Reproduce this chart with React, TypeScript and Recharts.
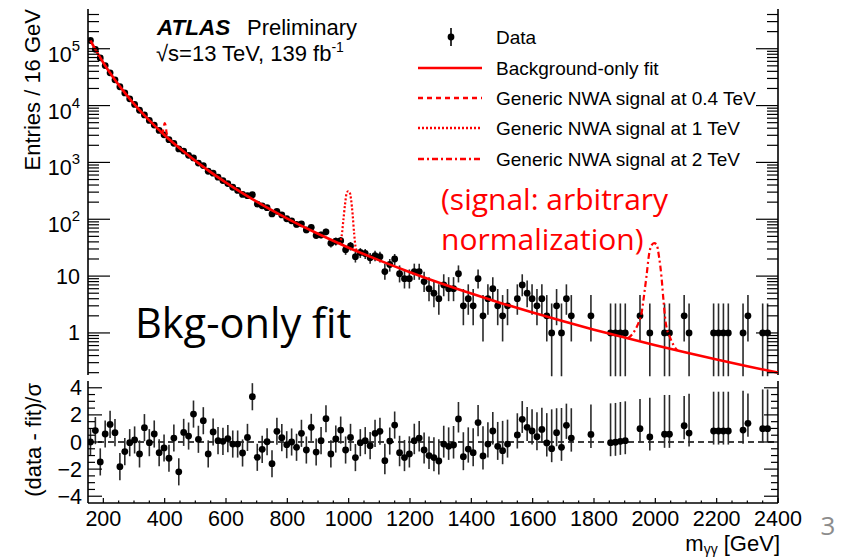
import React from "react";
import { ComposedChart, Line, Scatter, ErrorBar, XAxis, YAxis, ReferenceLine } from "recharts";

// centres (GeV) of the non-empty 16 GeV bins
const massBins = [
  158, 174, 190, 206, 222, 238, 254, 270, 286, 302,
  318, 334, 350, 366, 382, 398, 414, 430, 446, 462,
  478, 494, 510, 526, 542, 558, 574, 590, 606, 622,
  638, 654, 670, 686, 702, 718, 734, 750, 766, 782,
  798, 814, 830, 846, 862, 878, 894, 910, 926, 942,
  958, 974, 990, 1006, 1022, 1038, 1054, 1070, 1086, 1102,
  1118, 1134, 1150, 1166, 1182, 1198, 1214, 1230, 1246, 1262,
  1278, 1294, 1310, 1326, 1342, 1358, 1374, 1390, 1406, 1422,
  1438, 1454, 1470, 1486, 1502, 1518,
  1550, 1566, 1582, 1598, 1614, 1630, 1646, 1662, 1678, 1694, 1710, 1726,
  1790, 1854, 1870, 1886, 1902, 1950, 1982, 2030, 2046, 2094, 2110,
  2190, 2206, 2222, 2238, 2286, 2302, 2350, 2366,
];

const entries = [
  139600, 97560, 69010, 50630, 37750, 28420, 21430, 16710, 13170, 10460,
  8280, 6840, 5480, 4540, 3660, 3060, 2510, 2170, 1730, 1580,
  1330, 1200, 974, 881, 699, 648, 550, 479, 425, 366,
  322, 273, 260, 270, 185, 172, 160, 124, 138, 119,
  102, 94, 81, 83, 65, 72, 52, 53, 60, 38,
  41, 42, 29, 34, 22, 26, 25, 21, 23, 22,
  12, 16, 20, 11, 9, 9, 12, 12, 8, 6,
  5, 4, 7, 6, 6, 11, 3, 4, 3, 9,
  2, 4, 6, 3, 2, 3,
  4, 7, 5, 4, 3, 4, 2, 1, 3, 1, 4, 2,
  2, 1, 1, 1, 1, 2, 1, 1, 1, 2, 1,
  1, 1, 1, 1, 1, 2, 1, 1,
];

// (data - fit)/sigma
const pulls = [
  0, 0.84, -1.47, 0.59, 1.3, 0.69, -1.82, -0.71, -0.05, 0.15,
  -0.88, 1.06, -0.05, 0.59, -0.79, -0.44, -1.2, 0.29, -2.2, 0.71,
  0.44, 2.06, 0.2, 1.57, -0.88, 0.74, 0.1, 0.05, 0.25, -0.15,
  -0.15, -0.81, 0.34, 3.34, -1.13, -0.54, 0.02, -1.6, 0.79, 0.32,
  -0.2, 0, -0.39, 0.64, -0.59, 1.08, -0.74, 0.1, 1.72, -0.88,
  0.22, 0.88, -0.59, 0.34, -1.15, -0.05, 0.1, -0.27, 0.64, 0.79,
  -1.38, 0.07, 1.25, -0.79, -1.15, -0.88, 0.1, 0.29, -0.59, -1.0,
  -1.15, -1.4, -0.15, -0.32, -0.22, 1.7, -1.08, -0.52, -0.79, 1.43,
  -1.03, -0.15, 0.81, -0.32, -0.64, -0.15,
  0.52, 1.67, 1.08, 0.81, 0.39, 0.93, -0.07, -0.49, 0.69, -0.39, 1.23, 0.29,
  0.56, -0.05, -0.02, 0.05, 0.1, 0.98, 0.37, 0.57, 0.57, 1.2, 0.66,
  0.81, 0.81, 0.81, 0.81, 0.88, 1.38, 0.98, 0.98,
];

// background-only fit
const fitMass = [158, 174, 200, 230, 260, 300, 350, 400, 450, 500, 600, 700, 800, 900, 1000, 1100, 1200, 1300, 1400, 1500, 1600, 1700, 1800, 1900, 2000, 2100, 2200, 2300, 2400];
const fitValues = [139600, 97300, 56800, 32500, 19670, 10750, 5480, 3010, 1750, 1065, 441, 204, 102.9, 55.5, 31.6, 18.9, 11.71, 7.48, 4.92, 3.31, 2.28, 1.6, 1.142, 0.828, 0.609, 0.453, 0.341, 0.26, 0.2];

// fit + signal shapes
const sig04Mass = [386, 390, 394, 397, 400, 403, 406, 410, 416];
const sig04Values = [3500, 3380, 3500, 4200, 4900, 4500, 3400, 2720, 2520];
const sig1Mass = [970, 977, 983, 988, 993, 998, 1003, 1008, 1013, 1018, 1024, 1032];
const sig1Values = [37, 50, 100, 180, 280, 310, 300, 220, 120, 55, 30, 27];
const sig2Mass = [1910, 1928, 1945, 1955, 1963, 1971, 1980, 1988, 1996, 2004, 2012, 2020, 2027, 2034, 2047, 2060, 2072];
const sig2Values = [0.8, 1.0, 1.5, 2.2, 4.5, 9.8, 25, 35, 38, 36, 22, 9.8, 3.5, 1.5, 0.86, 0.6, 0.49];

// axes
const xMajorTicks = [200, 400, 600, 800, 1000, 1200, 1400, 1600, 1800, 2000, 2200, 2400];
const xMinorTicks = [250, 300, 350, 450, 500, 550, 650, 700, 750, 850, 900, 950, 1050, 1100, 1150, 1250, 1300, 1350, 1450, 1500, 1550, 1650, 1700, 1750, 1850, 1900, 1950, 2050, 2100, 2150, 2250, 2300, 2350];
const yDecadeTicks = [1, 10, 100, 1000, 10000, 100000];
const yDecadeBase = ["1", "10", "10", "10", "10", "10"];
const yDecadeExp = ["", "", "2", "3", "4", "5"];
const logDecades = [0.1, 1, 10, 100, 1000, 10000, 100000];
const logSteps = [2, 3, 4, 5, 6, 7, 8, 9];
const pullMajorTicks = [-4, -2, 0, 2, 4];
const pullMinorTicks = [-3.5, -3, -2.5, -1.5, -1, -0.5, 0.5, 1, 1.5, 2.5, 3, 3.5];
const pullLabels = ["−4", "−2", "0", "2", "4"];

// Poisson intervals for small counts, and the error bars seen in the ratio panel
const poissonDown = [0, 0.827, 1.292, 1.633, 1.914, 2.16, 2.38, 2.581, 2.768, 2.943, 3.108, 3.265, 3.414];
const poissonUp = [1.841, 2.3, 2.638, 2.918, 3.163, 3.382, 3.583, 3.77, 3.945, 4.11, 4.267, 4.417, 4.56];
const pullErrDown = [1, 1, 1, 1, 1, 1, 1, 1, 1, 1, 1, 1, 1];
const pullErrUp = [1, 2.9, 2.2, 1.8, 1.6, 1.5, 1.4, 1.35, 1.3, 1.3, 1.25, 1.25, 1.25];

const xDomain = [150, 2400];
const yDomain = [0.182, 500000];
const pullDomain = [-4.5, 4.5];

const RED = "#ff0000";
const HELV = "'Liberation Sans', Arial, Helvetica, sans-serif";
const SLIDE = "'Open Sans', 'Noto Sans', sans-serif";

const topPoints = massBins.map((m, i) => {
  const n = entries[i];
  const err = n <= 12 ? [poissonDown[n], poissonUp[n]] : [Math.sqrt(n), Math.sqrt(n)];
  return { m, v: n, err };
});
const pullPoints = massBins.map((m, i) => {
  const n = entries[i];
  const err = n <= 12 ? [pullErrDown[n], pullErrUp[n]] : [1, 1];
  return { m, v: pulls[i], err };
});
const zip = (xs: number[], ys: number[]) => xs.map((m, i) => ({ m, v: ys[i] }));
const fitData = zip(fitMass, fitValues);
const sig04Data = zip(sig04Mass, sig04Values);
const sig1Data = zip(sig1Mass, sig1Values);
const sig2Data = zip(sig2Mass, sig2Values);

const xTicks = [...xMajorTicks, ...xMinorTicks].sort((a, b) => a - b);
const logMinor = logDecades.flatMap((d) => logSteps.map((s) => s * d)).filter((v) => v > yDomain[0] && v < yDomain[1]);
const yLogTicks = [...yDecadeTicks, ...logMinor].sort((a, b) => a - b);
const pullTicks = [...pullMajorTicks, ...pullMinorTicks].sort((a, b) => a - b);

const dot = (p: any) => <circle cx={p.cx} cy={p.cy} r={3.4} fill="#000" />;

function xTick(dir: number, major: number, minor: number, labels = false) {
  return (props: any) => {
    const { x, y, payload } = props;
    const isMajor = xMajorTicks.includes(payload.value);
    const len = isMajor ? major : minor;
    return (
      <g>
        <line x1={x} x2={x} y1={y} y2={y + dir * len} stroke="#000" strokeWidth={1.2} />
        {labels && isMajor && (
          <text x={x} y={y + 23} textAnchor="middle" fontSize={21.5} fontFamily={HELV} fill="#000">
            {payload.value}
          </text>
        )}
      </g>
    );
  };
}

function logTick(dir: number, labels = false) {
  return (props: any) => {
    const { x, y, payload } = props;
    const i = yDecadeTicks.indexOf(payload.value);
    const len = i >= 0 ? 22 : 11;
    return (
      <g>
        <line x1={x} x2={x + dir * len} y1={y} y2={y} stroke="#000" strokeWidth={1.2} />
        {labels && i >= 0 && (
          <text x={x - 8} y={yDecadeExp[i] ? y + 13 : y + 7.5} textAnchor="end" fontSize={21.5} fontFamily={HELV} fill="#000">
            {yDecadeBase[i]}
            {yDecadeExp[i] && (
              <tspan dy={-11} fontSize={15}>
                {yDecadeExp[i]}
              </tspan>
            )}
          </text>
        )}
      </g>
    );
  };
}

function pullTick(dir: number, labels = false) {
  return (props: any) => {
    const { x, y, payload } = props;
    const i = pullMajorTicks.indexOf(payload.value);
    const len = i >= 0 ? 14 : 7;
    return (
      <g>
        <line x1={x} x2={x + dir * len} y1={y} y2={y} stroke="#000" strokeWidth={1.2} />
        {labels && i >= 0 && (
          <text x={x - 6} y={y + 7.5} textAnchor="end" fontSize={21.5} fontFamily={HELV} fill="#000">
            {pullLabels[i]}
          </text>
        )}
      </g>
    );
  };
}

const axisLine = { stroke: "#000", strokeWidth: 1.6 };

function MainPanel() {
  return (
    <ComposedChart width={851} height={380} margin={{ top: 9, right: 0, bottom: 5, left: 0 }}>
      <XAxis dataKey="m" type="number" domain={xDomain} allowDataOverflow ticks={xTicks} interval={0} height={0} tickSize={0} tickMargin={0} axisLine={axisLine} tick={xTick(-1, 9, 4.5)} />
      <XAxis xAxisId="top" orientation="top" dataKey="m" type="number" domain={xDomain} allowDataOverflow ticks={xTicks} interval={0} height={0} tickSize={0} tickMargin={0} axisLine={axisLine} tick={xTick(1, 9, 4.5)} />
      <YAxis dataKey="v" type="number" scale="log" domain={yDomain} allowDataOverflow ticks={yLogTicks} interval={0} width={88} tickSize={0} tickMargin={0} axisLine={axisLine} tick={logTick(1, true)} />
      <YAxis yAxisId="right" orientation="right" type="number" scale="log" domain={yDomain} allowDataOverflow ticks={yLogTicks} interval={0} width={73} tickSize={0} tickMargin={0} axisLine={axisLine} tick={logTick(-1)} />
      <Scatter data={topPoints} dataKey="v" shape={dot} isAnimationActive={false} zIndex={400}>
        <ErrorBar dataKey="err" direction="y" width={0} stroke="#2a2a2a" strokeWidth={1.6} isAnimationActive={false} />
      </Scatter>
      <Line data={fitData} dataKey="v" type="monotone" stroke={RED} strokeWidth={2.6} dot={false} activeDot={false} isAnimationActive={false} zIndex={700} />
      <Line data={sig04Data} dataKey="v" type="monotone" stroke={RED} strokeWidth={2.2} strokeDasharray="5 4" dot={false} activeDot={false} isAnimationActive={false} zIndex={700} />
      <Line data={sig1Data} dataKey="v" type="monotone" stroke={RED} strokeWidth={2.2} strokeDasharray="2 2" dot={false} activeDot={false} isAnimationActive={false} zIndex={700} />
      <Line data={sig2Data} dataKey="v" type="monotone" stroke={RED} strokeWidth={2.2} strokeDasharray="6 3 2 3" dot={false} activeDot={false} isAnimationActive={false} zIndex={700} />
    </ComposedChart>
  );
}

function RatioPanel() {
  return (
    <ComposedChart width={851} height={183} margin={{ top: 5, right: 0, bottom: 0, left: 0 }}>
      <XAxis dataKey="m" type="number" domain={xDomain} allowDataOverflow ticks={xTicks} interval={0} height={56} tickSize={0} tickMargin={0} axisLine={axisLine} tick={xTick(-1, 5, 2.5, true)} />
      <XAxis xAxisId="top" orientation="top" dataKey="m" type="number" domain={xDomain} allowDataOverflow ticks={xTicks} interval={0} height={0} tickSize={0} tickMargin={0} axisLine={axisLine} tick={xTick(1, 5, 2.5)} />
      <YAxis dataKey="v" type="number" domain={pullDomain} allowDataOverflow ticks={pullTicks} interval={0} width={88} tickSize={0} tickMargin={0} axisLine={axisLine} tick={pullTick(1, true)} />
      <YAxis yAxisId="right" orientation="right" type="number" domain={pullDomain} allowDataOverflow ticks={pullTicks} interval={0} width={73} tickSize={0} tickMargin={0} axisLine={axisLine} tick={pullTick(-1)} />
      <ReferenceLine y={0} stroke="#000" strokeWidth={1.5} strokeDasharray="6 4" />
      <Scatter data={pullPoints} dataKey="v" shape={dot} isAnimationActive={false}>
        <ErrorBar dataKey="err" direction="y" width={0} stroke="#2a2a2a" strokeWidth={1.6} isAnimationActive={false} />
      </Scatter>
    </ComposedChart>
  );
}

const legendRows = [
  { label: "Data", y: 37 },
  { label: "Background-only fit", y: 68, dash: "" },
  { label: "Generic NWA signal at 0.4 TeV", y: 98, dash: "5 4" },
  { label: "Generic NWA signal at 1 TeV", y: 128, dash: "2 2" },
  { label: "Generic NWA signal at 2 TeV", y: 159, dash: "6 3 2 3" },
];

function Overlay() {
  return (
    <svg width={851} height={559} style={{ position: "absolute", left: 0, top: 0, pointerEvents: "none" }}>
      <g fontFamily={HELV} fill="#000">
        <text x={157} y={35} fontSize={22.5} fontWeight="bold" fontStyle="italic">ATLAS</text>
        <text x={247} y={35} fontSize={22}>Preliminary</text>
        <text x={156} y={61} fontSize={22}>
          √s=13 TeV, 139 fb<tspan dy={-9} fontSize={14}>-1</tspan>
        </text>
        {legendRows.map((r) => (
          <g key={r.label}>
            {r.dash === undefined ? (
              <g>
                <line x1={451} x2={451} y1={r.y - 9} y2={r.y + 9} stroke="#000" strokeWidth={1.6} />
                <circle cx={451} cy={r.y} r={3.4} fill="#000" />
              </g>
            ) : (
              <line x1={418} x2={482} y1={r.y} y2={r.y} stroke={RED} strokeWidth={2.4} strokeDasharray={r.dash || undefined} />
            )}
            <text x={496} y={r.y + 6.5} fontSize={19}>{r.label}</text>
          </g>
        ))}
        <text transform="translate(40,9) rotate(-90)" textAnchor="end" fontSize={22}>Entries / 16 GeV</text>
        <text transform="translate(41,383) rotate(-90)" textAnchor="end" fontSize={22}>(data - fit)/σ</text>
        <text x={780} y={551} textAnchor="end" fontSize={22}>
          m<tspan dy={3} fontSize={14}>γγ</tspan>
          <tspan dy={-3}> [GeV]</tspan>
        </text>
      </g>
      <g fontFamily={SLIDE}>
        <text x={135} y={338} fontSize={41.5} fill="#000">Bkg-only fit</text>
        <text x={441} y={210} fontSize={30} fill={RED}>(signal: arbitrary</text>
        <text x={441} y={250} fontSize={30} fill={RED}>normalization)</text>
        <text x={828} y={535} fontSize={26} fill="#8c8c8c" textAnchor="middle">3</text>
      </g>
    </svg>
  );
}

export default function App() {
  return (
    <div style={{ position: "absolute", left: 0, top: 0, width: 851, height: 559, background: "#fff", fontFamily: HELV }}>
      <div style={{ position: "absolute", left: 0, top: 0 }}>
        <MainPanel />
      </div>
      <div style={{ position: "absolute", left: 0, top: 376 }}>
        <RatioPanel />
      </div>
      <Overlay />
    </div>
  );
}
